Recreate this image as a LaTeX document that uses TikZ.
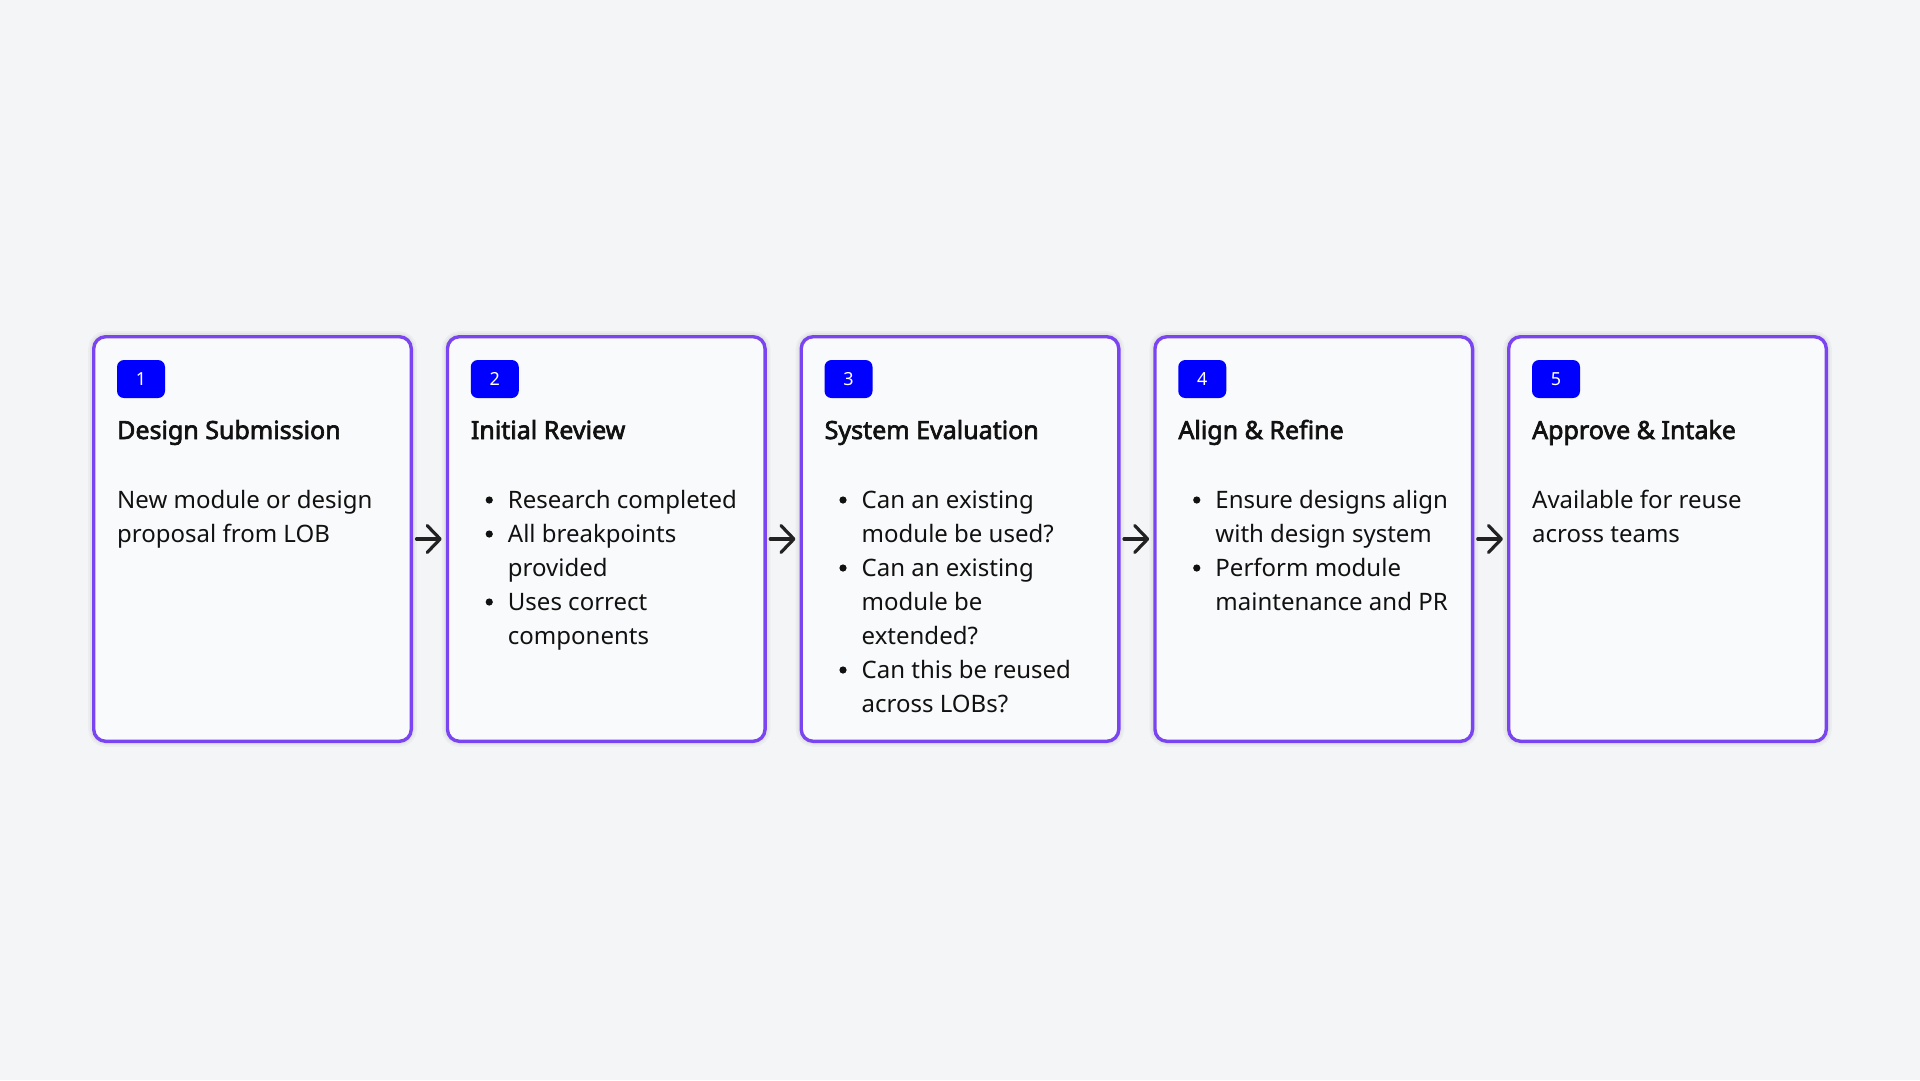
\documentclass[tikz,border=0pt]{standalone}
\usepackage{fontspec}
\setmainfont{Noto Sans}[AutoFakeBold=2.6]
\usetikzlibrary{arrows.meta}
\definecolor{bg}{HTML}{F4F5F7}
\definecolor{cardfill}{HTML}{F9FAFB}
\definecolor{cardline}{HTML}{7A45F0}
\definecolor{badgeblue}{HTML}{0000FF}
\definecolor{ink}{HTML}{111111}
\definecolor{arrowink}{HTML}{222222}
\newcommand{\bodysize}{\fontsize{24}{34}\selectfont}
\newcommand{\nob}{\makebox[37pt][l]{}}
\begin{document}
\begin{tikzpicture}[x=1pt,y=-1pt,
  card/.style={draw=cardline, line width=3.4pt, fill=cardfill, rounded corners=12pt,
    minimum width=317.6pt, minimum height=404.6pt, inner sep=0pt,
    preaction={draw=black, draw opacity=0.03, line width=11pt},
    preaction={draw=black, draw opacity=0.035, line width=7pt}},
  badge/.style={fill=badgeblue, rounded corners=7pt, minimum width=48pt, minimum height=38pt,
    inner sep=0pt, text=white, font=\fontsize{18}{18}\selectfont},
  title/.style={anchor=base west, inner sep=0pt, text=ink, font=\fontsize{25}{28}\selectfont\bfseries},
  body/.style={anchor=base west, inner sep=0pt, text=ink, font=\bodysize},
  dot/.style={fill=ink},
  flow/.style={draw=arrowink, line width=3.2pt, line cap=round,
    -{Straight Barb[length=13pt, width=27pt, round]}, shorten <=3.5pt, shorten >=4pt}]
\fill[bg] (0,0) rectangle (1920,1080);
\useasboundingbox (0,0) rectangle (1920,1080);

% cards
\node[card] (c1) at (252.5,539) {};
\node[card] (c2) at (606.25,539) {};
\node[card] (c3) at (960,539) {};
\node[card] (c4) at (1313.75,539) {};
\node[card] (c5) at (1667.5,539) {};

% badges
\node[badge] (b1) at (141,379) {1};
\node[badge] (b2) at (494.75,379) {2};
\node[badge] (b3) at (848.5,379) {3};
\node[badge] (b4) at (1202.25,379) {4};
\node[badge] (b5) at (1556,379) {5};

% titles
\node[title] (t1) at (117,439) {Design Submission};
\node[title] (t2) at (470.75,439) {Initial Review};
\node[title] (t3) at (824.5,439) {System Evaluation};
\node[title] (t4) at (1178.25,439) {Align \& Refine};
\node[title] (t5) at (1532,439) {Approve \& Intake};

% bodies
\node[body] (d1) at (117,508) {\begin{tabular}[t]{@{}l@{}}New module or design\\proposal from LOB\end{tabular}};
\node[body] (d2) at (470.75,508) {\begin{tabular}[t]{@{}l@{}l@{}}
\nob&Research completed\\
\nob&All breakpoints\\
\nob&provided\\
\nob&Uses correct\\
\nob&components\end{tabular}};
\node[body] (d3) at (824.5,508) {\begin{tabular}[t]{@{}l@{}l@{}}
\nob&Can an existing\\
\nob&module be used?\\
\nob&Can an existing\\
\nob&module be\\
\nob&extended?\\
\nob&Can this be reused\\
\nob&across LOBs?\end{tabular}};
\node[body] (d4) at (1178.25,508) {\begin{tabular}[t]{@{}l@{}l@{}}
\nob&Ensure designs align\\
\nob&with design system\\
\nob&Perform module\\
\nob&maintenance and PR\end{tabular}};
\node[body] (d5) at (1532,508) {\begin{tabular}[t]{@{}l@{}}Available for reuse\\across teams\end{tabular}};

% bullets
\foreach \bx/\by in {489.25/500, 489.25/534, 489.25/602,
                     843/500, 843/568, 843/670,
                     1196.75/500, 1196.75/568}
  \fill[dot] (\bx,\by) circle[radius=3.6pt];

% connectors
\draw[flow] (c1.east) -- (c2.west);
\draw[flow] (c2.east) -- (c3.west);
\draw[flow] (c3.east) -- (c4.west);
\draw[flow] (c4.east) -- (c5.west);
\end{tikzpicture}
\end{document}
